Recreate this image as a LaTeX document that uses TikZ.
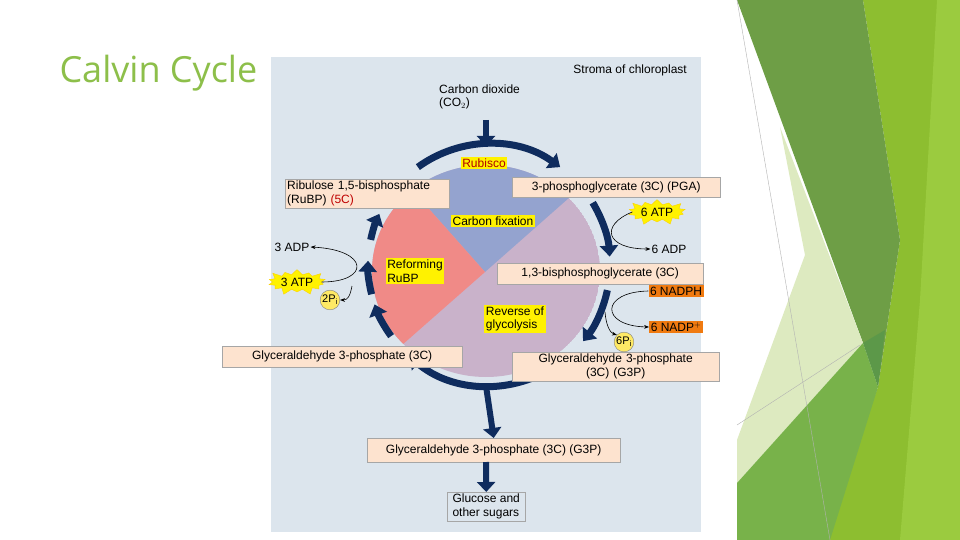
\documentclass[tikz,border=0pt]{standalone}
\usepackage{fontspec}
\setmainfont{Liberation Sans}
\newfontfamily\titlefont{Open Sans}
\usetikzlibrary{arrows.meta,shapes.symbols,calc}
\definecolor{panel}{HTML}{DCE5ED}
\definecolor{navy}{HTML}{0F2C5E}
\definecolor{peach}{HTML}{FDE3CF}
\definecolor{sblue}{HTML}{94A3CF}
\definecolor{sred}{HTML}{F08A87}
\definecolor{spurp}{HTML}{C9B2CA}
\definecolor{orng}{HTML}{F07A10}
\definecolor{ttl}{HTML}{8DBF4A}
\definecolor{gA}{HTML}{6E9E46}
\definecolor{gB}{HTML}{8DBE30}
\definecolor{gC}{HTML}{78B24A}
\definecolor{gD}{HTML}{DDEAC0}
\definecolor{gE}{HTML}{9BCB3F}
\tikzset{
 fs/.style={font=\fontsize{12}{13.5}\selectfont},
 box/.style={fs,draw=gray!70,fill=peach,inner sep=2pt,align=center},
 yl/.style={fs,fill=yellow,inner sep=1.5pt,align=left},
 og/.style={fs,fill=orng,inner sep=1.5pt},
 lbl/.style={fs,inner sep=1pt},
 star/.style={fs,starburst,starburst points=14,starburst point height=7pt,fill=yellow,draw=yellow!70!orange,inner sep=1pt},
 pi/.style={circle,fill=yellow!80!orange!60,draw=gray,inner sep=0.5pt,font=\fontsize{11}{12}\selectfont},
 ring/.style={navy,line width=7pt,-{Triangle[width=18pt,length=11pt]}},
 thin/.style={-{Stealth[length=5pt]},line width=0.6pt},
 big/.style={navy,line width=6pt,-{Triangle[width=18pt,length=10pt]}}
}
\begin{document}
\begin{tikzpicture}[x=1pt,y=-1pt]
\useasboundingbox (0,0) rectangle (960,540);
\fill[white] (0,0) rectangle (960,540);
% green decoration
\fill[gB] (863,0) -- (960,0) -- (960,540) -- (820,540) -- (878,387) -- (900,240) -- cycle;
\fill[gE] (937,0) -- (960,0) -- (960,540) -- (900,540) -- (920,300) -- cycle;
\fill[gA] (737,0) -- (863,0) -- (900,240) -- (878,387) -- (863,343) -- cycle;
\fill[gD] (780,127) -- (863,343) -- (737,483) -- (737,440) -- (805,255) -- cycle;
\fill[gC] (737,483) -- (863,343) -- (878,387) -- (830,540) -- (737,540) -- cycle;
\fill[green!40!black!70,opacity=0.5] (863,343) -- (878,387) -- (885,330) -- cycle;
\draw[gray!60,line width=0.4pt] (737,0) -- (830,540);
\draw[gray!60,line width=0.4pt] (737,425) -- (860,345);
% title
\node[anchor=west,text=ttl,font=\titlefont\fontsize{36}{40}\selectfont] (title) at (56,73) {Calvin Cycle};
% panel
\fill[panel] (271,57) rectangle (701,532);
\node[lbl,anchor=east] (stroma) at (688,70) {Stroma of chloroplast};
\node[lbl,anchor=west,align=left] (co2) at (438,97) {Carbon dioxide\\(CO$_2$)};
\coordinate (co2s) at (486,120);
\coordinate (co2e) at (486,146);
\draw[big] (co2s) -- (co2e);
% pie
\coordinate (C) at (486,271);
\coordinate (J) at (485,272);
\begin{scope}
\clip (C) ellipse[x radius=114,y radius=106];
\fill[spurp] (C) ellipse[x radius=114,y radius=106];
\fill[sblue] (J) -- (320,86) -- (486,0) -- (740,47) -- cycle;
\fill[sred] (J) -- (320,86) -- (200,270) -- (236,491) -- cycle;
\end{scope}
% ring arrows
\coordinate (R) at (489,265);
\draw[ring] ($(R)+(-126:121)$) arc[start angle=-126,end angle=-54,radius=121];
\draw[ring] ($(R)+(-31:121)$) arc[start angle=-31,end angle=-4,radius=121];
\draw[ring] ($(R)+(12:121)$) arc[start angle=12,end angle=39,radius=121];
\draw[ring] ($(R)+(55:121)$) arc[start angle=55,end angle=131,radius=121];
\draw[ring] ($(R)+(144:121)$) arc[start angle=144,end angle=161,radius=121];
\draw[ring] ($(R)+(166:121)$) arc[start angle=166,end angle=182,radius=121];
\draw[ring] ($(R)+(192:121)$) arc[start angle=192,end angle=205,radius=121];
% labels
\node[yl,text=red!70!black] (rub) at (484,163) {Rubisco};
\node[yl] (cf) at (493,221) {Carbon fixation};
\node[yl] (ref) at (415,271) {Reforming\\RuBP};
\node[yl] (rev) at (515,319) {Reverse of\\glycolysis};
\node[box,align=left,text width=160pt,anchor=north west] (rubp) at (285,179) {Ribulose 1,5-bisphosphate\\(RuBP) {\color{red!75!black}(5C)}};
\node[box,minimum width=208pt,anchor=north west,minimum height=20pt] (pga) at (512,177) {3-phosphoglycerate (3C) (PGA)};
\node[box,minimum width=206pt,anchor=north west,minimum height=21pt] (bpg) at (497,263) {1,3-bisphosphoglycerate (3C)};
\node[box,minimum width=240pt,anchor=north west,minimum height=21pt] (g3l) at (222,346) {Glyceraldehyde 3-phosphate (3C)};
\node[box,text width=203pt,anchor=north west] (g3r) at (512,352) {Glyceraldehyde 3-phosphate\\(3C) (G3P)};
\node[box,minimum width=253pt,anchor=north west,minimum height=24pt] (g3b) at (367,438) {Glyceraldehyde 3-phosphate (3C) (G3P)};
\node[draw=gray!70,fill=panel,fs,align=left,inner sep=2pt,anchor=north west,minimum width=78pt] (gluc) at (447,492) {Glucose and\\other sugars};
\coordinate (b1) at (486,386);
\coordinate (b2) at (486,462);
\draw[big] (b1) -- (g3b.north);
\draw[big] (b2) -- (gluc.north);
% right cofactors
\node[star] (atp6) at (657,212) {6 ATP};
\node[lbl] (adp6) at (669,249) {6 ADP};
\draw[thin] (atp6.west) .. controls (600,225) and (605,249) .. (adp6.west);
\node[og,minimum width=53pt] (nadph) at (676,291) {6 NADPH};
\node[og] (nadp) at (676,327) {6 NADP$^{+}$};
\node[pi] (pi6) at (624,342) {6P$_\mathrm{i}$};
\draw[thin] (nadph.west) .. controls (600,292) and (600,326) .. (nadp.west);
\draw[thin] (605,312) .. controls (606,325) and (610,333) .. (pi6.north west);
% left cofactors
\node[star] (atp3) at (297,282) {3 ATP};
\node[lbl] (adp3) at (292,247) {3 ADP};
\node[pi] (pi2) at (330,300) {2P$_\mathrm{i}$};
\draw[thin] (atp3.east) .. controls (370,282) and (370,250) .. (adp3.east);
\draw[thin] (352,286) .. controls (350,296) and (348,300) .. (pi2.east);
\end{tikzpicture}
\end{document}
